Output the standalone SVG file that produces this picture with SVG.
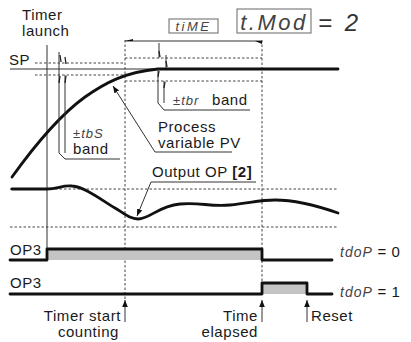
<svg xmlns="http://www.w3.org/2000/svg" width="411" height="342" viewBox="0 0 411 342">
<defs>
<style>
text{font-family:"Liberation Sans",Arial,sans-serif;font-size:15px;letter-spacing:0.55px;fill:#1a1a1a}
.seg{font-family:"Liberation Sans",Arial,sans-serif;font-style:italic;fill:#444;letter-spacing:1px}
.thick{fill:none;stroke:#111;stroke-width:2.8;stroke-linejoin:round;stroke-linecap:round}
.thin{fill:none;stroke:#333;stroke-width:1}
.dash{fill:none;stroke:#444;stroke-width:1;stroke-dasharray:2.5,2}
.fillg{fill:#c4c4c4}
.tick{fill:none;stroke:#222;stroke-width:1.3}
.box{fill:none;stroke:#666;stroke-width:1}
</style>
<marker id="ah" viewBox="0 0 10 10" refX="10" refY="5" markerWidth="7" markerHeight="7" orient="auto-start-reverse" markerUnits="userSpaceOnUse">
<path d="M0,1 L10,5 L0,9 Z" fill="#111"/>
</marker>
</defs>

<g id="guides">
<line class="dash" x1="35" y1="63" x2="125" y2="63"/>
<line class="dash" x1="35" y1="75" x2="125" y2="75"/>
<line class="dash" x1="125" y1="58" x2="262" y2="58"/>
<line class="dash" x1="125" y1="81" x2="262" y2="81"/>
<line class="dash" x1="10" y1="189" x2="338" y2="189"/>
<line class="dash" x1="10" y1="227" x2="338" y2="227"/>
<line class="dash" x1="125" y1="40" x2="125" y2="300"/>
<line class="dash" x1="262" y1="40" x2="262" y2="283"/>
<line class="thin" x1="10" y1="69" x2="158" y2="69" stroke="#666"/>
<line class="thin" x1="47" y1="45" x2="47" y2="249" stroke="#555"/>
</g>

<g id="header">
<text x="22" y="20">Timer</text>
<text x="22" y="36">launch</text>
<rect class="box" x="169" y="19" width="49" height="14"/>
<text class="seg" x="193.5" y="31" text-anchor="middle" style="font-size:13px;letter-spacing:2.5px">tiME</text>
<rect class="box" x="237" y="9" width="74" height="24"/>
<text class="seg" x="274" y="30" text-anchor="middle" style="font-size:22px;letter-spacing:2.5px">t.Mod</text>
<text class="seg" x="318" y="31" style="font-size:24px;letter-spacing:3px;fill:#333">= 2</text>
<line class="thin" x1="125" y1="41" x2="262" y2="41"/>
<path d="M125,41 L133,39 L133,41 Z" fill="#111"/>
<path d="M262,41 L262,44 L255,41 Z" fill="#111"/>
</g>

<g id="sp">
<text x="9" y="65">SP</text>
</g>

<g id="pv-curve">
<path class="thick" d="M12,177 C35,145 60,115 85,97 C105,83 125,72 158,69 L338,69"/>
</g>

<g id="tbs-band">
<path class="thin" d="M59,52 V153 L65,159 H120"/>
<path class="thin" d="M65,75 V153"/>
<path class="tick" d="M60,55 L61,62"/>
<path class="tick" d="M65,57 L66,64"/>
<path class="tick" d="M59,83 L60,76"/>
<path class="tick" d="M65,83 L66,76"/>
<text x="73" y="138" class="seg" style="font-size:13px">±tbS</text>
<text x="73" y="154">band</text>
</g>

<g id="tbr-band">
<path class="thin" d="M159,43 V58"/>
<path class="thin" d="M166,55 V68"/>
<path class="thin" d="M158,69 V103 L164,110 H250"/>
<path class="thin" d="M164,81 V103"/>
<path class="tick" d="M159,51 L160,57"/>
<path class="tick" d="M166,61 L167,67"/>
<path class="tick" d="M158,77 L159,71"/>
<path class="tick" d="M164,88 L165,82"/>
<text x="173" y="105" class="seg" style="font-size:13px">±tbr</text>
<text x="212" y="105">band</text>
</g>

<g id="pv-label">
<path class="thin" d="M155,152 L113,86" marker-end="url(#ah)"/>
<line class="thin" x1="155" y1="152" x2="232" y2="152"/>
<text x="158" y="132">Process</text>
<text x="158" y="148">variable PV</text>
</g>

<g id="op-curve">
<path class="thick" d="M12,189 L47,189 C58,189 62,185 72,186 C85,187 100,199 115,208 C125,214 130,219 138,219 C150,219 158,206 180,204 C200,202 210,207 230,205 C250,203 260,200 275,200 C295,200 315,205 338,213"/>
</g>

<g id="op-label">
<path class="thin" d="M151,182 L137,216" marker-end="url(#ah)"/>
<line class="thin" x1="151" y1="182" x2="256" y2="182"/>
<text x="152" y="177">Output OP <tspan font-weight="bold">[2]</tspan></text>
</g>

<g id="op3-a">
<rect class="fillg" x="47" y="249" width="215" height="11"/>
<path class="thick" d="M10,260 H47 V249 H262 V260 H332"/>
<text x="10" y="255">OP3</text>
<text x="340" y="257"><tspan class="seg" style="font-size:14px">tdoP</tspan> = 0</text>
</g>

<g id="op3-b">
<rect class="fillg" x="262" y="283" width="45" height="11"/>
<path class="thick" d="M10,294 H262 V283 H307 V294 H332"/>
<text x="10" y="288">OP3</text>
<text x="340" y="297"><tspan class="seg" style="font-size:14px">tdoP</tspan> = 1</text>
</g>

<g id="connectors">
<line class="thin" x1="125" y1="322" x2="125" y2="300" marker-end="url(#ah)"/>
<line class="thin" x1="262" y1="322" x2="262" y2="300" marker-end="url(#ah)"/>
<line class="thin" x1="307" y1="322" x2="307" y2="300" marker-end="url(#ah)"/>
</g>

<g id="events">
<text x="121" y="321" text-anchor="end">Timer start</text>
<text x="119" y="337" text-anchor="end">counting</text>
<text x="258" y="321" text-anchor="end">Time</text>
<text x="258" y="337" text-anchor="end">elapsed</text>
<text x="311" y="321">Reset</text>
</g>
</svg>
